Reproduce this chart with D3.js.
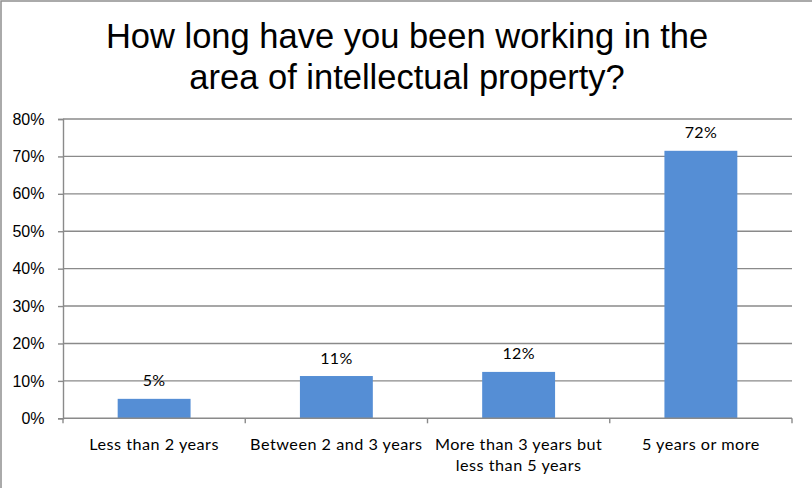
<!DOCTYPE html>
<html>
<head>
<meta charset="utf-8">
<script src="https://cdn.jsdelivr.net/npm/d3@7"></script>
<style>
  html, body { margin: 0; padding: 0; background: #fff; }
  svg { display: block; }
</style>
</head>
<body>
<svg id="chart" width="812" height="488"></svg>
<script>
// Survey answers: time spent working in intellectual property
const categories = [
  ["Less than 2 years"],
  ["Between 2 and 3 years"],
  ["More than 3 years but", "less than 5 years"],
  ["5 years or more"]
];
const shares = [0.052, 0.113, 0.124, 0.715];
const yTicks = [0, 0.1, 0.2, 0.3, 0.4, 0.5, 0.6, 0.7, 0.8];
const titleLines = ["How long have you been working in the", "area of intellectual property?"];

const W = 812, H = 488;
const margin = { left: 63, top: 119 };
const plotRight = 792, plotBottom = 418.3;

const svg = d3.select("#chart");
const axisColor = "#8a8a8a";
const labelFont = "Lato, 'Open Sans', sans-serif";

// outer frame
svg.append("rect")
  .attr("x", 1).attr("y", 1)
  .attr("width", W + 10).attr("height", H + 10)
  .attr("fill", "none").attr("stroke", "#8f8f8f").attr("stroke-width", 1.5);

// title
svg.append("g").selectAll("text").data(titleLines).join("text")
  .attr("x", 407).attr("y", (d, i) => 48 + i * 41)
  .attr("text-anchor", "middle")
  .attr("font-family", "'Liberation Sans', Arial, sans-serif")
  .attr("font-size", 34.5)
  .attr("fill", "#000")
  .text(d => d);

const x = d3.scaleBand()
  .domain(d3.range(categories.length))
  .range([margin.left, plotRight])
  .paddingInner(0.6).paddingOuter(0.3);

const y = d3.scaleLinear().domain([0, 0.8]).range([plotBottom, margin.top]);

// horizontal gridlines
svg.append("g").selectAll("line").data(yTicks.slice(1)).join("line")
  .attr("x1", margin.left).attr("x2", plotRight)
  .attr("y1", d => y(d)).attr("y2", d => y(d))
  .attr("stroke", axisColor).attr("stroke-width", 1.4);

// y axis
const yAxis = d3.axisLeft(y).tickValues(yTicks).tickFormat(d3.format(".0%")).tickSize(5).tickPadding(13.5);
const gy = svg.append("g").attr("transform", `translate(${margin.left},0)`).call(yAxis);
gy.select(".domain").attr("stroke", axisColor).attr("stroke-width", 1.4);
gy.selectAll(".tick line").attr("stroke", axisColor).attr("stroke-width", 1.4);
gy.selectAll(".tick text")
  .attr("font-family", "'Liberation Sans', Arial, sans-serif")
  .attr("font-size", 16).attr("fill", "#000");

// bars
svg.append("g").selectAll("rect").data(shares).join("rect")
  .attr("x", (d, i) => x(i))
  .attr("width", x.bandwidth())
  .attr("y", d => y(d))
  .attr("height", d => plotBottom - y(d))
  .attr("fill", "#558ED5");

// value labels
svg.append("g").selectAll("text").data(shares).join("text")
  .attr("x", (d, i) => x(i) + x.bandwidth() / 2)
  .attr("y", d => y(d) - 12.5)
  .attr("text-anchor", "middle")
  .attr("font-family", labelFont)
  .attr("font-size", 16)
  .attr("letter-spacing", 0.3)
  .attr("fill", "#000")
  .text(d => d3.format(".0%")(d));

// x axis with ticks at category boundaries
const boundaries = d3.range(categories.length + 1);
const xb = d3.scaleLinear().domain([0, categories.length]).range([margin.left, plotRight]);
const gx = svg.append("g");
gx.append("line")
  .attr("x1", margin.left).attr("x2", plotRight)
  .attr("y1", plotBottom).attr("y2", plotBottom)
  .attr("stroke", axisColor).attr("stroke-width", 1.4);
gx.selectAll("line.tk").data(boundaries).join("line").attr("class", "tk")
  .attr("x1", d => xb(d)).attr("x2", d => xb(d))
  .attr("y1", plotBottom).attr("y2", plotBottom + 5)
  .attr("stroke", axisColor).attr("stroke-width", 1.4);

// category labels
const cat = svg.append("g").selectAll("text").data(categories).join("text")
  .attr("x", (d, i) => x(i) + x.bandwidth() / 2)
  .attr("y", 449.5)
  .attr("text-anchor", "middle")
  .attr("font-family", labelFont)
  .attr("font-size", 16.2)
  .attr("letter-spacing", 0.5)
  .attr("fill", "#000");
cat.selectAll("tspan").data(d => d).join("tspan")
  .attr("x", function () { return this.parentNode.getAttribute("x"); })
  .attr("dy", (d, i) => i === 0 ? 0 : 21.5)
  .text(d => d);
</script>
</body>
</html>
